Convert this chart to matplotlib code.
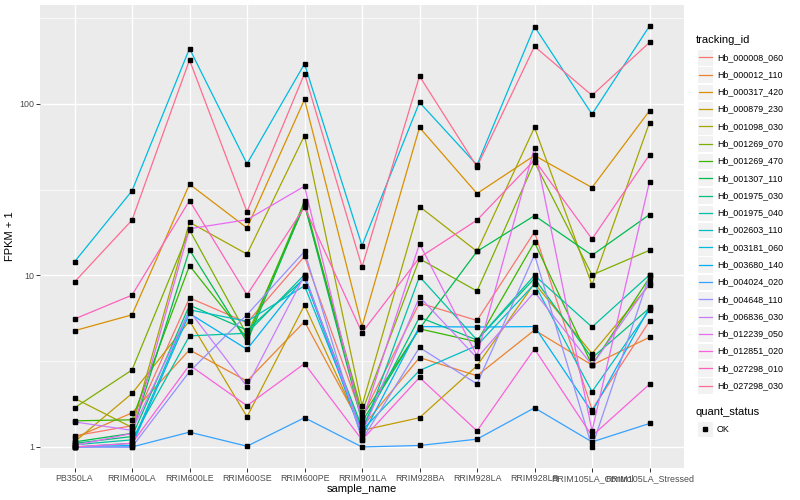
import numpy as np
import matplotlib
matplotlib.use("Agg")
import matplotlib.pyplot as plt
from matplotlib.patches import Rectangle
from matplotlib.lines import Line2D

plt.rcParams['font.family'] = ['Liberation Sans', 'DejaVu Sans']

samples = ["PB350LA", "RRIM600LA", "RRIM600LE", "RRIM600SE", "RRIM600PE", "RRIM901LA",
           "RRIM928BA", "RRIM928LA", "RRIM928LB", "RRIM105LA_Control", "RRIM105LA_Stressed"]

tracking_ids = ["Hb_000008_060", "Hb_000012_110", "Hb_000317_420", "Hb_000879_230",
                "Hb_001098_030", "Hb_001269_070", "Hb_001269_470", "Hb_001307_110",
                "Hb_001975_030", "Hb_001975_040", "Hb_002603_110", "Hb_003181_060",
                "Hb_003680_140", "Hb_004024_020", "Hb_004648_110", "Hb_006836_030",
                "Hb_012239_050", "Hb_012851_020", "Hb_027298_010", "Hb_027298_030"]

# ggplot hue palette, 20 levels
colors = ["#F8766D", "#EA8331", "#D89000", "#C09B00", "#A3A500", "#7CAE00", "#39B600",
          "#00BB4E", "#00BF7D", "#00C1A3", "#00BFC4", "#00BAE0", "#00B0F6", "#35A2FF",
          "#9590FF", "#C77CFF", "#E76BF3", "#FA62DB", "#FF62BC", "#FF6C91"]

# FPKM + 1 per gene, one value per sample
hb_000008_060 = [1.16, 1.33, 7.4, 5.3, 12.9, 1.5, 6.9, 5.46, 17.9, 1.65, 5.4]
hb_000012_110 = [1.13, 1.58, 3.68, 2.42, 5.38, 1.3, 3.32, 2.6, 4.8, 3.0, 4.36]
hb_000317_420 = [4.76, 5.89, 34.0, 18.9, 106.0, 5.03, 72.8, 30.0, 50.0, 32.5, 91.0]
hb_000879_230 = [1.07, 2.05, 5.43, 1.5, 6.7, 1.25, 1.48, 2.97, 9.0, 3.5, 8.8]
hb_001098_030 = [1.92, 1.3, 20.4, 13.3, 65.3, 1.74, 25.2, 13.8, 72.8, 8.8, 77.8]
hb_001269_070 = [1.69, 2.81, 18.4, 4.5, 25.7, 1.6, 12.5, 8.1, 45.7, 10.06, 14.0]
hb_001269_470 = [1.42, 1.44, 11.4, 4.3, 27.0, 1.5, 4.88, 4.1, 15.6, 3.0, 9.7]
hb_001307_110 = [1.07, 1.2, 14.1, 4.1, 26.0, 1.4, 4.9, 13.8, 22.3, 13.1, 22.6]
hb_001975_030 = [1.05, 1.15, 6.7, 4.8, 9.6, 1.3, 5.7, 4.2, 9.6, 3.3, 6.45]
hb_001975_040 = [1.03, 1.1, 4.44, 4.6, 10.1, 1.2, 9.84, 4.2, 10.0, 5.0, 10.06]
hb_002603_110 = [1.0, 1.05, 6.3, 5.4, 8.7, 1.25, 2.79, 3.9, 8.9, 2.1, 6.3]
hb_003181_060 = [12.0, 31.1, 210.0, 44.7, 171.0, 14.9, 102.0, 44.0, 282.0, 87.0, 284.0]
hb_003680_140 = [1.0, 1.02, 6.0, 3.71, 9.8, 1.15, 5.03, 5.0, 5.03, 1.6, 6.5]
hb_004024_020 = [1.0, 1.0, 1.22, 1.01, 1.48, 1.0, 1.02, 1.11, 1.69, 1.07, 1.37]
hb_004648_110 = [1.0, 1.0, 2.75, 5.9, 13.8, 1.1, 3.8, 2.33, 13.2, 1.0, 10.0]
hb_006836_030 = [1.4, 1.25, 6.2, 2.25, 10.0, 1.2, 7.5, 3.3, 8.0, 3.0, 9.0]
hb_012239_050 = [1.02, 1.2, 18.7, 21.1, 33.1, 1.4, 15.3, 3.4, 55.6, 1.24, 35.2]
hb_012851_020 = [1.0, 1.05, 3.0, 1.74, 3.06, 1.1, 2.54, 1.24, 3.73, 1.16, 2.32]
hb_027298_010 = [5.57, 7.67, 27.3, 7.7, 25.0, 4.64, 12.7, 21.0, 47.0, 16.3, 50.4]
hb_027298_030 = [9.16, 21.0, 180.0, 23.5, 150.0, 11.2, 145.0, 43.0, 216.0, 112.0, 228.0]

series = [hb_000008_060, hb_000012_110, hb_000317_420, hb_000879_230, hb_001098_030,
          hb_001269_070, hb_001269_470, hb_001307_110, hb_001975_030, hb_001975_040,
          hb_002603_110, hb_003181_060, hb_003680_140, hb_004024_020, hb_004648_110,
          hb_006836_030, hb_012239_050, hb_012851_020, hb_027298_010, hb_027298_030]

W, H = 800, 500
fig = plt.figure(figsize=(8, 5), dpi=100)
# panel in pixel coordinates: left 40, right 684, top 5, bottom 468
ax = fig.add_axes([40 / W, (H - 468) / H, (684 - 40) / W, (468 - 5) / H])
ax.set_facecolor("#EBEBEB")
for s in ax.spines.values():
    s.set_visible(False)

x = np.arange(len(samples))
for vals, col in zip(series, colors):
    ax.plot(x, vals, color=col, lw=0.9, zorder=2)
for vals in series:
    ax.plot(x, vals, ls="none", marker="s", ms=2.2, color="black", zorder=3)

ax.set_yscale("log")
allv = np.concatenate([np.asarray(v) for v in series])
lo, hi = np.log10(allv.min()), np.log10(allv.max())
pad = 0.05 * (hi - lo)
ax.set_ylim(10 ** (lo - pad), 10 ** (hi + pad))
ax.set_xlim(-0.6, len(samples) - 1 + 0.6)

ax.set_yticks([1, 10, 100])
ax.set_yticklabels(["1", "10", "100"])
ax.set_yticks([10 ** 0.5, 10 ** 1.5, 10 ** 2.5], minor=True)
ax.set_xticks(x)
ax.set_xticklabels(samples)
ax.tick_params(axis="both", which="major", length=2.75, width=0.7, color="#333333",
               labelcolor="#4D4D4D", labelsize=6.4, pad=1.5)
ax.tick_params(axis="y", which="minor", length=0)
ax.grid(True, which="major", color="white", lw=1.0, zorder=0)
ax.grid(True, which="minor", axis="y", color="white", lw=0.5, zorder=0)
ax.set_axisbelow(True)

ax.set_xlabel("sample_name", fontsize=8, labelpad=1)
ax.set_ylabel("FPKM + 1", fontsize=8, labelpad=3)


# legend drawn in figure pixels
def fx(px):
    return px / W


def fy(py):
    return (H - py) / H


fig.text(fx(696), fy(40), "tracking_id", fontsize=8, va="center", ha="left")
for i, (tid, col) in enumerate(zip(tracking_ids, colors)):
    cy = 57.3 + 17.28 * i
    fig.add_artist(Rectangle((fx(696.5), fy(cy + 8.2)), 16.4 / W, 16.4 / H,
                             transform=fig.transFigure, facecolor="#F2F2F2",
                             edgecolor="white", lw=0.8))
    fig.add_artist(Line2D([fx(698.5), fx(711.5)], [fy(cy), fy(cy)], color=col, lw=0.9,
                          transform=fig.transFigure))
    fig.text(fx(717), fy(cy), tid, fontsize=6.4, va="center", ha="left")

fig.text(fx(696), fy(412), "quant_status", fontsize=8, va="center", ha="left")
fig.add_artist(Rectangle((fx(696.5), fy(429 + 8.2)), 16.4 / W, 16.4 / H,
                         transform=fig.transFigure, facecolor="#F2F2F2",
                         edgecolor="white", lw=0.8))
fig.add_artist(Line2D([fx(704.7)], [fy(429)], marker="s", ms=2.2, color="black",
                      transform=fig.transFigure))
fig.text(fx(717), fy(429), "OK", fontsize=6.4, va="center", ha="left")

fig.savefig("out.png", dpi=100)
